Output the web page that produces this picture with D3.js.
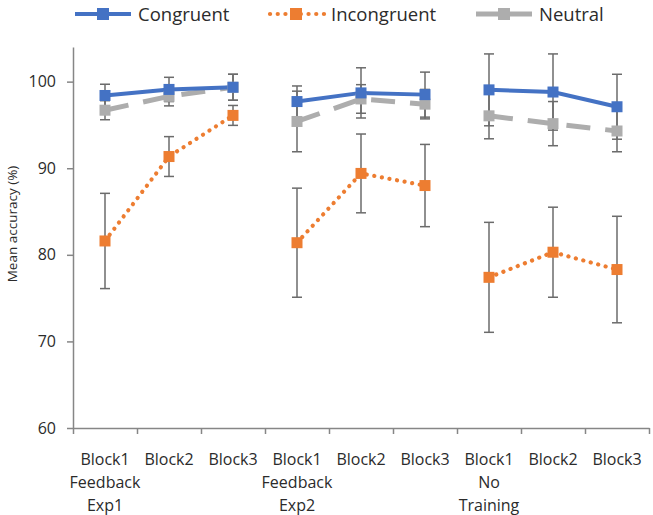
<!DOCTYPE html>
<html lang="en">
<head>
<meta charset="UTF-8">
<title>Mean accuracy by block</title>
<script src="https://d3js.org/d3.v7.min.js"></script>
<style>
  body { margin: 0; background: #fff; }
  svg text { font-family: "Open Sans", sans-serif; fill: #2b2b2b; }
</style>
</head>
<body>
<div id="chart"></div>
<script>
  // data
  const blocks = ["Block1", "Block2", "Block3", "Block1", "Block2", "Block3", "Block1", "Block2", "Block3"];
  const groupLabels = [["Feedback", "Exp1"], ["Feedback", "Exp2"], ["No", "Training"]];
  const congruent = [98.4, 99.1, 99.35, 97.7, 98.7, 98.5, 99.05, 98.8, 97.1];
  const congruentErr = [1.3, 1.4, 1.5, 1.8, 2.9, 2.6, 4.15, 4.4, 3.75];
  const incongruent = [81.6, 91.35, 96.1, 81.4, 89.4, 88.0, 77.4, 80.3, 78.3];
  const incongruentErr = [5.5, 2.3, 1.15, 6.3, 4.55, 4.75, 6.35, 5.2, 6.15];
  const neutral = [96.7, 98.3, 99.35, 95.4, 98.0, 97.4, 96.05, 95.15, 94.3];
  const neutralErr = [1.1, 1.1, 1.5, 3.5, 1.65, 1.7, 2.65, 2.55, 2.4];
  const yTicks = [60, 70, 80, 90, 100];

  const series = [
    { name: "Congruent", values: congruent, err: congruentErr, color: "#4472C4", dash: null, width: 4 },
    { name: "Incongruent", values: incongruent, err: incongruentErr, color: "#ED7D31", dash: "0.1,7.6", width: 4.2 },
    { name: "Neutral", values: neutral, err: neutralErr, color: "#ADADAD", dash: "24,15", width: 5 }
  ];

  const width = 653, height = 515;
  const marginLeft = 73, marginRight = 4, marginTop = 47, marginBottom = 87;

  const svg = d3.select("#chart").append("svg")
    .attr("width", width)
    .attr("height", height);

  const x = d3.scaleBand()
    .domain(d3.range(blocks.length))
    .range([marginLeft, width - marginRight]);
  const cx = i => x(i) + x.bandwidth() / 2;

  const y = d3.scaleLinear()
    .domain([60, 104])
    .range([height - marginBottom, marginTop]);

  // y axis
  svg.append("g")
    .attr("transform", `translate(${marginLeft},0)`)
    .call(d3.axisLeft(y).tickValues(yTicks).tickSize(6).tickPadding(11).tickSizeOuter(0))
    .call(g => g.select(".domain").attr("stroke", "#868686").attr("stroke-width", 1.5))
    .call(g => g.selectAll(".tick line").attr("stroke", "#868686").attr("stroke-width", 1.5))
    .call(g => g.selectAll(".tick text").attr("font-size", 16).attr("fill", "#2b2b2b"));

  svg.append("text")
    .attr("transform", "translate(17,224) rotate(-90)")
    .attr("text-anchor", "middle")
    .attr("font-size", 13.5)
    .text("Mean accuracy (%)");

  // x axis with ticks on category boundaries
  const xb = d3.scaleLinear().domain([0, blocks.length]).range(x.range());
  svg.append("g")
    .attr("transform", `translate(0,${y(60)})`)
    .call(d3.axisBottom(xb).tickValues(d3.range(blocks.length + 1)).tickFormat("").tickSize(6).tickSizeOuter(0))
    .call(g => g.select(".domain").attr("stroke", "#868686").attr("stroke-width", 1.5))
    .call(g => g.selectAll(".tick line").attr("stroke", "#868686").attr("stroke-width", 1.5));

  svg.append("g")
    .selectAll("text")
    .data(blocks)
    .join("text")
    .attr("x", (d, i) => cx(i))
    .attr("y", y(60) + 37)
    .attr("text-anchor", "middle")
    .attr("font-size", 16)
    .text(d => d);

  svg.append("g")
    .selectAll("text")
    .data(groupLabels)
    .join("text")
    .attr("x", (d, i) => cx(i * 3))
    .attr("y", y(60) + 60)
    .attr("text-anchor", "middle")
    .attr("font-size", 16)
    .selectAll("tspan")
    .data(d => d)
    .join("tspan")
    .attr("x", function () { return this.parentNode.getAttribute("x"); })
    .attr("dy", (d, i) => i ? 22.5 : 0)
    .text(d => d);

  // error bars
  const eb = svg.append("g").attr("stroke", "#6b6b6b").attr("stroke-width", 1.5);
  series.forEach(s => {
    s.values.forEach((v, i) => {
      const lo = y(v - s.err[i]), hi = y(v + s.err[i]);
      eb.append("line").attr("x1", cx(i)).attr("x2", cx(i)).attr("y1", lo).attr("y2", hi);
      eb.append("line").attr("x1", cx(i) - 5).attr("x2", cx(i) + 5).attr("y1", lo).attr("y2", lo);
      eb.append("line").attr("x1", cx(i) - 5).attr("x2", cx(i) + 5).attr("y1", hi).attr("y2", hi);
    });
  });

  // lines, one segment per group of three blocks
  const line = d3.line().x(d => cx(d.i)).y(d => y(d.v));
  [...series].reverse().forEach(s => {
    d3.range(3).forEach(gi => {
      const pts = d3.range(gi * 3, gi * 3 + 3).map(i => ({ i, v: s.values[i] }));
      svg.append("path")
        .attr("d", line(pts))
        .attr("fill", "none")
        .attr("stroke", s.color)
        .attr("stroke-width", s.width)
        .attr("stroke-linecap", s.dash && s.dash.startsWith("0.1") ? "round" : "butt")
        .attr("stroke-dasharray", s.dash);
    });
  });

  // markers
  const ms = 11;
  [...series].reverse().forEach(s => {
    svg.append("g")
      .selectAll("rect")
      .data(s.values)
      .join("rect")
      .attr("x", (d, i) => cx(i) - ms / 2)
      .attr("y", d => y(d) - ms / 2)
      .attr("width", ms)
      .attr("height", ms)
      .attr("fill", s.color);
  });

  // legend
  const legendX = [75, 268, 476];
  const legend = svg.append("g").attr("transform", "translate(0,14)");
  series.forEach((s, k) => {
    const dotted = s.dash && s.dash.startsWith("0.1");
    const g = legend.append("g").attr("transform", `translate(${legendX[k]},0)`);
    g.append("line")
      .attr("x1", dotted ? 2 : 0).attr("x2", 56)
      .attr("stroke", s.color)
      .attr("stroke-width", s.width)
      .attr("stroke-linecap", dotted ? "round" : "butt")
      .attr("stroke-dasharray", dotted ? "0.1,7.6" : null);
    g.append("rect")
      .attr("x", 28 - 6).attr("y", -6).attr("width", 12).attr("height", 12)
      .attr("fill", s.color);
    g.append("text")
      .attr("x", 63).attr("y", 6.5)
      .attr("font-size", 18.5)
      .text(s.name);
  });
</script>
</body>
</html>
